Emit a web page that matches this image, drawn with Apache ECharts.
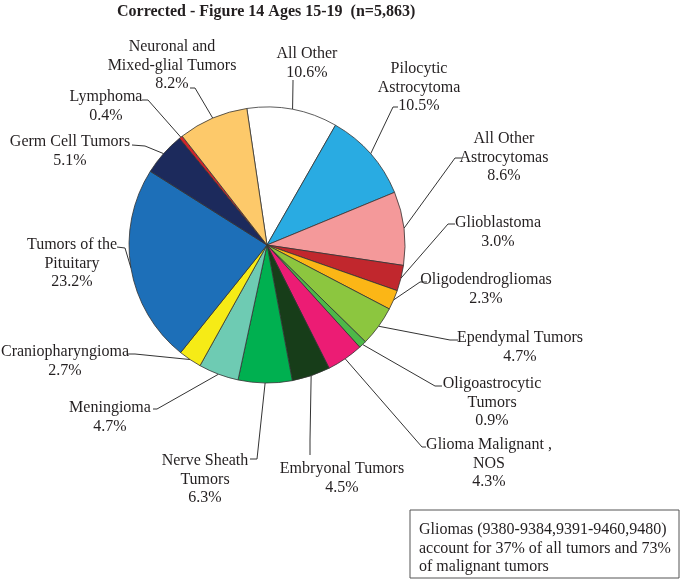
<!DOCTYPE html>
<html>
<head>
<meta charset="utf-8">
<script src="https://cdn.jsdelivr.net/npm/echarts@6/dist/echarts.min.js"></script>
<style>
html,body{margin:0;padding:0;background:#fff;}
#chart{width:694px;height:580px;}
</style>
</head>
<body>
<div id="chart"></div>
<script>
// ---- data ----
const categories = [
  'All Other',
  'Pilocytic\nAstrocytoma',
  'All Other\nAstrocytomas',
  'Glioblastoma',
  'Oligodendrogliomas',
  'Ependymal Tumors',
  'Oligoastrocytic\nTumors',
  'Glioma Malignant ,\nNOS',
  'Embryonal Tumors',
  'Nerve Sheath\nTumors',
  'Meningioma',
  'Craniopharyngioma',
  'Tumors of the\nPituitary',
  'Germ Cell Tumors',
  'Lymphoma',
  'Neuronal and\nMixed-glial Tumors'
];
const percents = [10.6, 10.5, 8.6, 3.0, 2.3, 4.7, 0.9, 4.3, 4.5, 6.3, 4.7, 2.7, 23.2, 5.1, 0.4, 8.2];
const colors = ['#ffffff','#29abe2','#f4999a','#c1272d','#fbb616','#8cc63f','#4db848','#ec1c74',
                '#173d19','#00b050','#6ecbb3','#f6eb16','#1d6fb8','#1c2a5c','#d2232a','#fdc96a'];
const titleText = 'Corrected - Figure 14 Ages 15-19  (n=5,863)';
const noteLines = ['Gliomas (9380-9384,9391-9460,9480)', 'account for 37% of all tumors and 73%', 'of malignant tumors'];

// ---- label layout (label anchor: center-x, top-y; leader bend and end points) ----
const labelPos = [
  {x:307, y:45,  bend:[293,82],  end:[293,80]},
  {x:419, y:60,  bend:[393,107], end:[398,107]},
  {x:504, y:130, bend:[455,158], end:[462,158]},
  {x:498, y:214, bend:[448,224], end:[455,224]},
  {x:486, y:271, bend:[420,282], end:[427,282]},
  {x:520, y:329, bend:[450,340], end:[458,340]},
  {x:492, y:375, bend:[435,386], end:[442,386]},
  {x:489, y:436, bend:[422,447], end:[426,447]},
  {x:342, y:460, bend:[310,440], end:[310,455]},
  {x:205, y:452, bend:[257,459], end:[250,459]},
  {x:110, y:399, bend:[157,409], end:[153,409]},
  {x:65,  y:343, bend:[135,354], end:[128,354]},
  {x:72,  y:236, bend:[125,248], end:[117,247]},
  {x:70,  y:133, bend:[145,146], end:[132,145]},
  {x:106, y:88,  bend:[148,100], end:[142,100]},
  {x:172, y:38,  bend:[195,88],  end:[190,88]}
];

const FONT = "'Liberation Serif', 'DejaVu Serif', serif";

const chart = echarts.init(document.getElementById('chart'), null, {renderer:'canvas'});
chart.setOption({
  animation: false,
  backgroundColor: '#ffffff',
  title: {
    text: titleText,
    left: 117, top: 0, padding: [4, 0, 0, 0],
    textStyle: {fontFamily: FONT, fontSize: 16, fontWeight: 'bold', color: '#231f20'}
  },
  graphic: [
    {type:'rect', shape:{x:410, y:510, width:269, height:68},
     style:{fill:'#ffffff', stroke:'#555555', lineWidth:1}},
    {type:'text', left:419, top:521,
     style:{text: noteLines.join('\n'), font: "16px " + FONT, lineHeight: 18.5, fill:'#231f20'}}
  ],
  series: [{
    type: 'pie',
    center: [267, 245],
    radius: 138,
    startAngle: 98.4,
    clockwise: true,
    avoidLabelOverlap: false,
    itemStyle: {borderColor: '#333333', borderWidth: 0.8},
    label: {
      show: true,
      position: 'outside',
      fontFamily: FONT,
      fontSize: 16,
      lineHeight: 18.5,
      color: '#231f20',
      align: 'center',
      formatter: p => p.name + '\n' + p.value.toFixed(1) + '%'
    },
    labelLine: {show: true, length: 10, length2: 10, smooth: false,
                lineStyle: {color: '#333333', width: 1}},
    emphasis: {disabled: true},
    labelLayout: function (params) {
      const L = labelPos[params.dataIndex];
      const pts = params.labelLinePoints;
      const start = pts && pts[0] ? pts[0] : L.bend;
      return {
        x: L.x, y: L.y, align: 'center', verticalAlign: 'top',
        labelLinePoints: [start, L.bend, L.end]
      };
    },
    data: categories.map((c, i) => ({name: c, value: percents[i], itemStyle: {color: colors[i]}}))
  }]
});
</script>
</body>
</html>
